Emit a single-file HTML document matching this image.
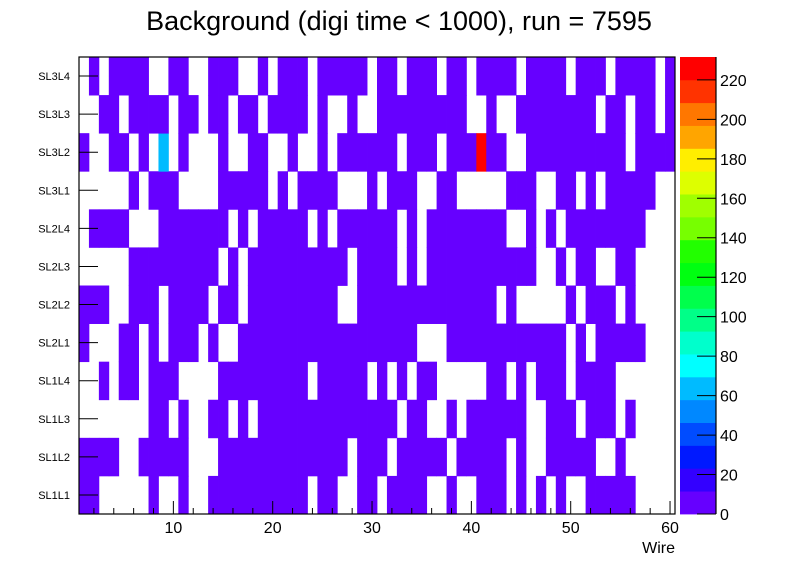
<!DOCTYPE html>
<html><head><meta charset="utf-8"><style>
body{margin:0;background:#fff;}
svg{display:block;font-family:"Liberation Sans",sans-serif;}
</style></head><body>
<svg id="c" width="796" height="572">
<text x="399" y="30" font-size="27" text-anchor="middle">Background (digi time &lt; 1000), run = 7595</text>
</svg>
<script>
const layers = ["SL1L1","SL1L2","SL1L3","SL1L4","SL2L1","SL2L2","SL2L3","SL2L4","SL3L1","SL3L2","SL3L3","SL3L4"];
const wireTicks = [10,20,30,40,50,60];
const zTicks = [0,20,40,60,80,100,120,140,160,180,200,220];
const zMax = 231.6;
const paletteColors = ["#6600ff","#3300ff","#0019ff","#004cff","#0088ff","#00bbff","#00ffff","#00ffcc","#00ff88","#00ff4c","#00ff11","#22ff00","#77ff00","#a0ff00","#ddff00","#ffee00","#ffa500","#ff7700","#ff3300","#ff0000"];
// occupancy rows (bottom SL1L1 to top SL3L4); '1'=low hits, 'C'=~65, 'R'=~230
const row0  = "110000010010011111111110110011"+"011110010011101010100111110000";
const row1  = "111100111110001111111111111011"+"101111101111101001111100100000";
const row2  = "000000011010011010111111111111"+"110110010111111001110111010000";
const row3  = "001011011100001111111110111110"+"101011000001101011101111000000";
const row4  = "100011010111010011111111111111"+"111100011111111111101011111000";
const row5  = "111001110111101101111111110011"+"111111111111010000010111010000";
const row6  = "000001111111110101111111111011"+"110101111111111100101100110000";
const row7  = "011110001111111010111110101111"+"110101111111100101011111111000";
const row8  = "000001011100001111101011110001"+"011100110000011100110101111100";
const row9  = "10011010C010001001100100101111"+"1101110111R1100111111111101111";
const row10 = "001101111011011011011110100100"+"111111111001001111111101101101";
const row11 = "010111100110011100101110111110"+"110111011011110111101110111101";
const rowStrings = [row0,row1,row2,row3,row4,row5,row6,row7,row8,row9,row10,row11];
const lowValue = 5, cyanValue = 65, redValue = 230;

const svg = document.getElementById('c');
const NS = "http://www.w3.org/2000/svg";
const X0=79, X1=675, Y0=57, Y1=514;
function xs(w){ return X0 + (w-0.5)/60*(X1-X0); }
function ys(r){ return Y1 - r/12*(Y1-Y0); }
function zy(z){ return Y1 - z/zMax*(Y1-Y0); }
function el(tag, attrs){ const e=document.createElementNS(NS,tag); for(const k in attrs) e.setAttribute(k,attrs[k]); svg.appendChild(e); return e; }
function colorFor(v){ let i=Math.floor(v/(zMax/20)); if(i>19)i=19; return paletteColors[i]; }

rowStrings.forEach((s,r)=>{
  const vals=[];
  for(const ch of s){ vals.push(ch==='1'?lowValue:ch==='C'?cyanValue:ch==='R'?redValue:0); }
  vals.forEach((v,i)=>{
    if(v<=0) return;
    const w=i+1;
    const c=el('rect',{x:xs(w-0.5),y:ys(r+1),width:xs(w+0.5)-xs(w-0.5)+0.4,height:ys(r)-ys(r+1)+0.4,fill:colorFor(v)});
    
    
  });
});

const fr=el('rect',{x:X0,y:Y0,width:X1-X0,height:Y1-Y0,fill:'none',stroke:'#000','stroke-width':1.2});



layers.forEach((l,r)=>{
  const yc=(ys(r)+ys(r+1))/2;
  const t=el('line',{x1:X0,x2:X0+19,y1:yc,y2:yc,stroke:'#000','stroke-width':1});
  
  
  const tx=el('text',{x:70,y:yc+4,'font-size':11,'text-anchor':'end'});
  tx.textContent=l;
  
  
});
for(let w=2; w<=60; w+=2){
  const major = w%10===0;
  const t=el('line',{x1:xs(w),x2:xs(w),y1:Y1,y2:Y1-(major?13:6),stroke:'#000','stroke-width':1});
  
  
}
wireTicks.forEach(w=>{
  const tx=el('text',{x:xs(w),y:533,'font-size':16,'text-anchor':'middle'});
  tx.textContent=w;
  
  
});
const xt=el('text',{x:675,y:553,'font-size':16,'text-anchor':'end'});
xt.textContent='Wire';



// palette
const PX0=680, PX1=716;
paletteColors.forEach((c,i)=>{
  const z0=i*zMax/20, z1=(i+1)*zMax/20;
  const r=el('rect',{x:PX0,y:zy(z1),width:PX1-PX0,height:zy(z0)-zy(z1)+0.4,fill:c});
  
  
});
const pb=el('line',{x1:PX1,x2:PX1,y1:Y0,y2:Y1,stroke:'#000','stroke-width':1.2});


zTicks.forEach(z=>{
  const t=el('line',{x1:697,x2:PX1,y1:zy(z),y2:zy(z),stroke:'#000','stroke-width':1});
  
  
  const tx=el('text',{x:720,y:zy(z)+6,'font-size':16});
  tx.textContent=z;
  
  
});
</script>
</body></html>
